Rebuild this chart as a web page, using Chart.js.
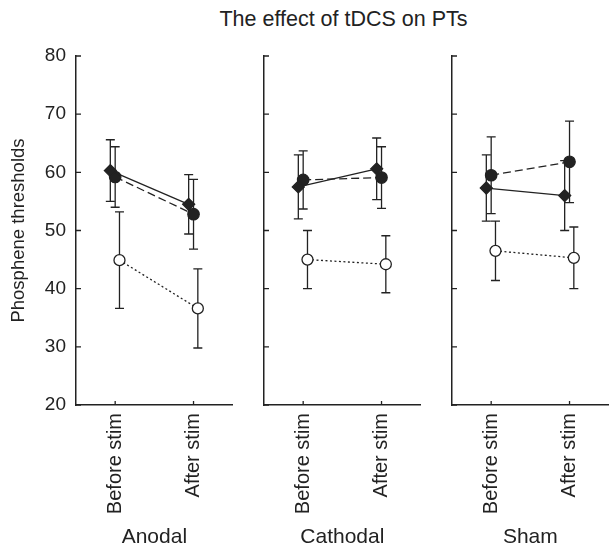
<!DOCTYPE html>
<html>
<head>
<meta charset="utf-8">
<script src="https://cdn.jsdelivr.net/npm/chart.js@4.4.1/dist/chart.umd.min.js"></script>
<style>
  html, body { margin: 0; padding: 0; background: #fff; }
  body { width: 611px; height: 548px; position: relative; overflow: hidden; }
  .panel { position: absolute; top: 0; height: 548px; }
  #title {
    position: absolute; left: 0; top: 8px; width: 687px;
    text-align: center; white-space: nowrap;
    font: 21.5px 'Liberation Sans', Arial, sans-serif; line-height: 22px; color: #222;
  }
</style>
</head>
<body>
<div id="title">The effect of tDCS on PTs</div>
<div class="panel" style="left:0;width:240px"><canvas id="p0"></canvas></div>
<div class="panel" style="left:240px;width:188px"><canvas id="p1"></canvas></div>
<div class="panel" style="left:428px;width:188px"><canvas id="p2"></canvas></div>
<script>
'use strict';

// ── Data ─────────────────────────────────────────────────
const GROUPS = ['Anodal', 'Cathodal', 'Sham'];
const STIM   = ['Before stim', 'After stim'];
const Y_TICKS = [20, 30, 40, 50, 60, 70, 80];

// per group: [before, after]
const DIAMOND_MEAN = [[60.3, 54.5], [57.5, 60.6], [57.3, 56.0]];
const DIAMOND_ERR  = [[5.3, 5.1],   [5.5, 5.3],   [5.7, 6.0]];
const FILLED_MEAN  = [[59.2, 52.8], [58.7, 59.1], [59.5, 61.8]];
const FILLED_ERR   = [[5.2, 6.0],   [5.0, 5.3],   [6.6, 7.0]];
const OPEN_MEAN    = [[44.9, 36.6], [45.0, 44.2], [46.5, 45.3]];
const OPEN_ERR     = [[8.3, 6.8],   [5.0, 4.9],   [5.1, 5.3]];

// ── Style ────────────────────────────────────────────────
const INK  = '#222';
const FAM  = "'Liberation Sans', Arial, sans-serif";
const DODGE = { diamond: -0.062, filled: 0, open: 0.055 };

// ── Plugins ──────────────────────────────────────────────
const errorBars = {
  id: 'errorBars',
  beforeDatasetsDraw(chart) {
    const { ctx } = chart;
    const y = chart.scales.y;
    ctx.save();
    ctx.strokeStyle = INK;
    ctx.lineWidth = 1.3;
    chart.data.datasets.forEach((ds, di) => {
      const meta = chart.getDatasetMeta(di);
      meta.data.forEach((pt, i) => {
        const v = ds.data[i].y, e = ds.errors[i];
        const top = y.getPixelForValue(v + e), bot = y.getPixelForValue(v - e);
        ctx.beginPath();
        ctx.moveTo(pt.x, top); ctx.lineTo(pt.x, bot);
        ctx.moveTo(pt.x - 4.5, top); ctx.lineTo(pt.x + 4.5, top);
        ctx.moveTo(pt.x - 4.5, bot); ctx.lineTo(pt.x + 4.5, bot);
        ctx.stroke();
      });
    });
    ctx.restore();
  }
};

// tick marks pointing into the plot
const innerTicks = {
  id: 'innerTicks',
  afterDraw(chart) {
    const { ctx, scales: { x, y } } = chart;
    ctx.save();
    ctx.strokeStyle = INK;
    ctx.lineWidth = 1.3;
    ctx.beginPath();
    y.ticks.forEach(t => {
      const py = y.getPixelForValue(t.value);
      ctx.moveTo(y.right, py); ctx.lineTo(y.right + 5, py);
    });
    x.ticks.forEach(t => {
      const px = x.getPixelForValue(t.value);
      ctx.moveTo(px, x.top); ctx.lineTo(px, x.top - 4);
    });
    ctx.stroke();
    ctx.restore();
  }
};

// ── Panel builder ────────────────────────────────────────
function series(label, mean, err, dodge, style) {
  return Object.assign({
    label,
    data: mean.map((v, i) => ({ x: i + dodge, y: v })),
    errors: err,
    borderColor: INK,
    borderWidth: 1.3,
    pointBorderColor: INK,
    pointBorderWidth: 1.3,
    fill: false,
    tension: 0,
  }, style);
}

function buildPanel(idx) {
  const first = idx === 0;
  const yWidth = first ? 76 : 24;
  new Chart(document.getElementById('p' + idx), {
    type: 'line',
    data: {
      datasets: [
        series('diamond', DIAMOND_MEAN[idx], DIAMOND_ERR[idx], DODGE.diamond, {
          pointStyle: 'rectRot', pointRadius: 6, pointBackgroundColor: INK,
        }),
        series('filled', FILLED_MEAN[idx], FILLED_ERR[idx], DODGE.filled, {
          pointStyle: 'circle', pointRadius: 5.7, pointBackgroundColor: INK,
          borderDash: [8, 4],
        }),
        series('open', OPEN_MEAN[idx], OPEN_ERR[idx], DODGE.open, {
          pointStyle: 'circle', pointRadius: 5.5, pointBackgroundColor: '#fff',
          borderDash: [2, 2.5],
        }),
      ]
    },
    options: {
      responsive: true, maintainAspectRatio: false, animation: false,
      layout: { padding: { top: 56, right: 2, left: 0, bottom: 0 } },
      plugins: { legend: { display: false }, tooltip: { enabled: false } },
      scales: {
        x: {
          type: 'linear', min: -0.5, max: 1.5,
          grid: { display: false, drawTicks: false },
          border: { display: true, color: INK, width: 1.5 },
          afterBuildTicks: s => { s.ticks = STIM.map((_, i) => ({ value: i })); },
          afterFit: s => { s.height = 143; },
          ticks: {
            autoSkip: false, minRotation: 90, maxRotation: 90, padding: 8,
            color: INK, font: { family: FAM, size: 20 },
            callback: v => STIM[v],
          },
          title: {
            display: true, text: GROUPS[idx], color: INK,
            font: { family: FAM, size: 21, lineHeight: 1 },
            padding: { top: 0, bottom: 0 },
          },
        },
        y: {
          min: 20, max: 80,
          grid: { display: false, drawTicks: false },
          border: { display: true, color: INK, width: 1.5 },
          afterBuildTicks: s => { s.ticks = Y_TICKS.map(v => ({ value: v })); },
          afterFit: s => { s.width = yWidth; },
          ticks: {
            display: first, padding: 10,
            color: INK, font: { family: FAM, size: 19 },
          },
          title: {
            display: first, text: 'Phosphene thresholds', color: INK,
            font: { family: FAM, size: 18.5, lineHeight: 1 },
            padding: { top: 10, bottom: 0 },
          },
        },
      }
    },
    plugins: [errorBars, innerTicks],
  });
}

GROUPS.forEach((_, i) => buildPanel(i));
</script>
</body>
</html>
